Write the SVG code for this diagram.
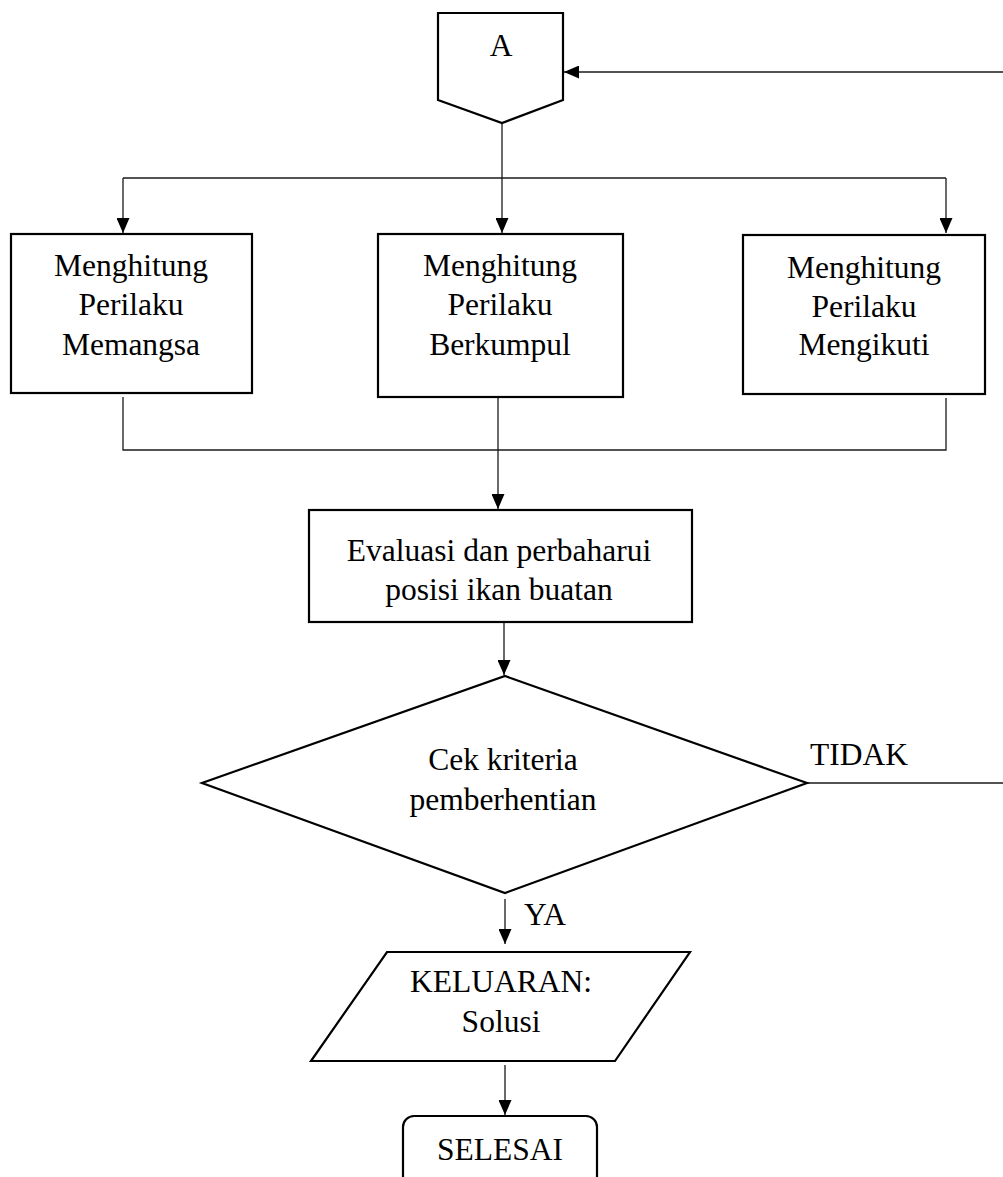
<svg xmlns="http://www.w3.org/2000/svg" width="1003" height="1177" viewBox="0 0 1003 1177">
<defs>
<style>
.shape{fill:#fff;stroke:#000;stroke-width:2.2}
.conn{fill:none;stroke:#1a1a1a;stroke-width:1.3}
text{font-family:"Liberation Serif","Times New Roman",serif;font-size:31.5px;fill:#000;text-anchor:middle}
</style>
<marker id="arr" markerUnits="userSpaceOnUse" markerWidth="15" markerHeight="13" refX="15" refY="6.5" orient="auto">
<path d="M0,0 L15,6.5 L0,13 z" fill="#000"/>
</marker>
</defs>
<rect width="1003" height="1177" fill="#fff"/>
<g id="connectors">
<path class="conn" d="M1003,72 H564" marker-end="url(#arr)"/>
<path class="conn" d="M502,124 V233" marker-end="url(#arr)"/>
<path class="conn" d="M123,178 H946"/>
<path class="conn" d="M123,178 V233" marker-end="url(#arr)"/>
<path class="conn" d="M946,178 V233" marker-end="url(#arr)"/>
<path class="conn" d="M123,397 V450 H946 V398"/>
<path class="conn" d="M498,398 V509" marker-end="url(#arr)"/>
<path class="conn" d="M504,623 V675" marker-end="url(#arr)"/>
<path class="conn" d="M807,783 H1003"/>
<path class="conn" d="M505,899 V944" marker-end="url(#arr)"/>
<path class="conn" d="M505,1065 V1115" marker-end="url(#arr)"/>
</g>
<g id="node-A">
<path class="shape" d="M438,13 H563 V100 L502,123 L438,100 Z"/>
<text x="501" y="56">A</text>
</g>
<g id="node-memangsa">
<rect class="shape" x="11" y="234" width="241" height="159"/>
<text x="131" y="276">Menghitung</text>
<text x="131" y="315">Perilaku</text>
<text x="131" y="355">Memangsa</text>
</g>
<g id="node-berkumpul">
<rect class="shape" x="378" y="234" width="245" height="163"/>
<text x="500" y="276">Menghitung</text>
<text x="500" y="315">Perilaku</text>
<text x="500" y="355">Berkumpul</text>
</g>
<g id="node-mengikuti">
<rect class="shape" x="743" y="235" width="242" height="159"/>
<text x="864" y="278">Menghitung</text>
<text x="864" y="317">Perilaku</text>
<text x="864" y="355">Mengikuti</text>
</g>
<g id="node-evaluasi">
<rect class="shape" x="309" y="510" width="383" height="112"/>
<text x="499" y="561">Evaluasi dan perbaharui</text>
<text x="499" y="600">posisi ikan buatan</text>
</g>
<g id="node-cek">
<path class="shape" d="M505,676 L807,783 L505,893 L202,783 Z"/>
<text x="503" y="770">Cek kriteria</text>
<text x="503" y="810">pemberhentian</text>
</g>
<text x="859" y="765">TIDAK</text>
<text x="545" y="925">YA</text>
<g id="node-keluaran">
<path class="shape" d="M387,952 H690 L615,1061 H311 Z"/>
<text x="501" y="992">KELUARAN:</text>
<text x="501" y="1032">Solusi</text>
</g>
<g id="node-selesai">
<rect class="shape" x="403" y="1116" width="194" height="84" rx="11" ry="11"/>
<text x="500" y="1160">SELESAI</text>
</g>
</svg>
